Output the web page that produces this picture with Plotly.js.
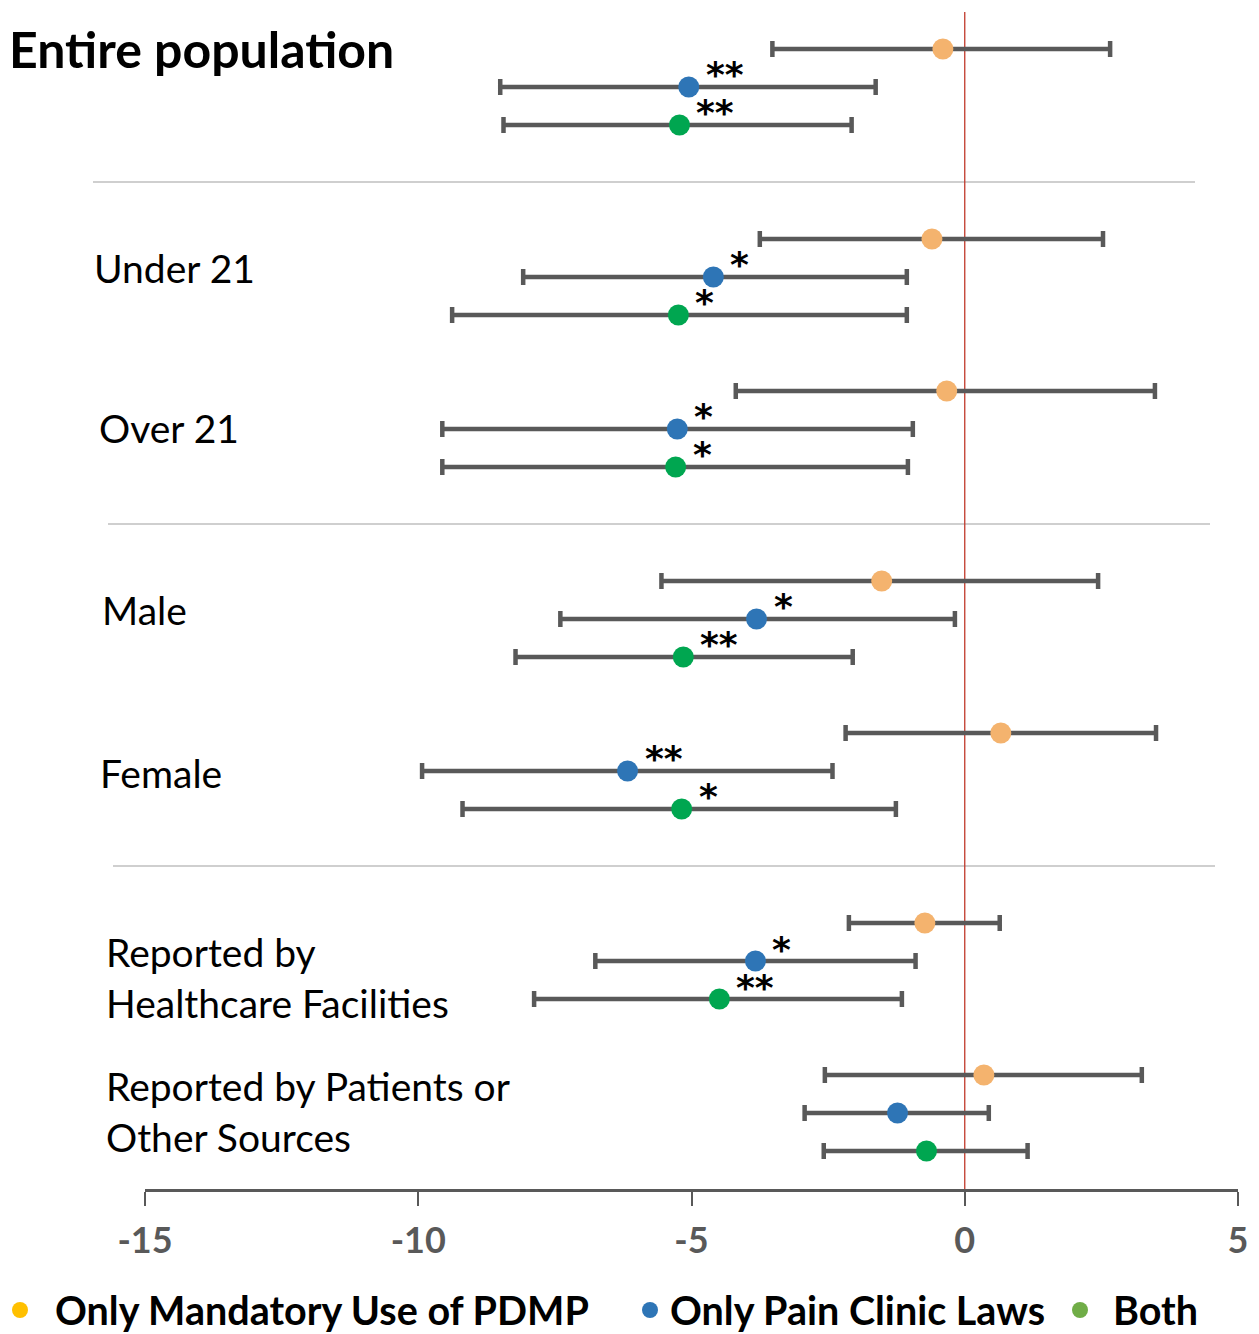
<!DOCTYPE html>
<html>
<head>
<meta charset="utf-8">
<script src="https://cdn.plot.ly/plotly-3.0.1.min.js"></script>
<style>html,body{margin:0;padding:0;background:#fff;}#chart{width:1259px;height:1334px;}</style>
</head>
<body>
<div id="chart"></div>
<script>
// ---- data ----
const groups = ['Entire population', 'Under 21', 'Over 21', 'Male', 'Female',
  'Reported by<br>Healthcare Facilities', 'Reported by Patients or<br>Other Sources'];
const seriesNames = ['Only Mandatory Use of PDMP', 'Only Pain Clinic Laws', 'Both'];

const pdmpEst = [-0.40, -0.60, -0.33, -1.52, 0.66, -0.73, 0.35];
const pdmpLo  = [-3.52, -3.75, -4.19, -5.55, -2.18, -2.12, -2.56];
const pdmpHi  = [2.66, 2.53, 3.48, 2.44, 3.50, 0.64, 3.24];
const pdmpSig = ['', '', '', '', '', '', ''];

const painEst = [-5.05, -4.60, -5.26, -3.81, -6.17, -3.83, -1.23];
const painLo  = [-8.50, -8.08, -9.56, -7.40, -9.93, -6.76, -2.93];
const painHi  = [-1.63, -1.06, -0.95, -0.18, -2.42, -0.90, 0.44];
const painSig = ['**', '*', '*', '*', '**', '*', ''];

const bothEst = [-5.22, -5.24, -5.29, -5.15, -5.18, -4.49, -0.70];
const bothLo  = [-8.44, -9.38, -9.56, -8.22, -9.19, -7.88, -2.58];
const bothHi  = [-2.07, -1.06, -1.04, -2.05, -1.26, -1.15, 1.15];
const bothSig = ['**', '*', '*', '**', '*', '**', ''];

const xTicks = [-15, -10, -5, 0, 5];

// ---- layout helpers ----
const FONT = 'Lato, "Open Sans", sans-serif';
const STARFONT = '"DejaVu Sans", Lato, sans-serif';
const sectionStart = [true, true, false, true, false, true, false];
const rows = [];
let r = 0;
groups.forEach((g, i) => {
  if (i > 0) r += sectionStart[i] ? 5 : 4;
  rows.push(r);
});
const separators = [];
for (let i = 1; i < groups.length; i++) if (sectionStart[i]) separators.push(rows[i] - 1.5);

const W = 1259, H = 1334, ML = 145, MR = 21, MT = 0, MB = 145;
const PW = W - ML - MR, PH = H - MT - MB;
const px2paperX = px => (px - ML) / PW;
const py2paperY = py => (H - MB - py) / PH;

const series = [
  {est: pdmpEst, lo: pdmpLo, hi: pdmpHi, sig: pdmpSig, color: '#F4B36E', legendColor: '#FFC000'},
  {est: painEst, lo: painLo, hi: painHi, sig: painSig, color: '#2E75B6', legendColor: '#2E75B6'},
  {est: bothEst, lo: bothLo, hi: bothHi, sig: bothSig, color: '#00A650', legendColor: '#70AD47'}
];

const traces = series.map((s, k) => ({
  type: 'scatter', mode: 'markers', name: seriesNames[k], showlegend: false,
  x: s.est, y: rows.map(v => v + k),
  marker: {color: s.color, size: 21},
  error_x: {type: 'data', symmetric: false,
    array: s.hi.map((h, i) => h - s.est[i]),
    arrayminus: s.lo.map((l, i) => s.est[i] - l),
    color: '#595959', thickness: 4.5, width: 8},
  hoverinfo: 'x+name'
}));

const annotations = [];
// significance stars
series.forEach((s, k) => {
  s.sig.forEach((t, i) => {
    if (!t) return;
    annotations.push({x: s.est[i], y: rows[i] + k, xref: 'x', yref: 'y', text: t,
      showarrow: false, xanchor: 'left', yanchor: 'middle', xshift: 15, yshift: 12,
      font: {family: STARFONT, size: 36, color: '#000', weight: 'bold'}});
  });
});
// group labels (positions are layout)
const labelPx = [[7, 49], [92, 268], [97, 428], [100, 610], [98, 773], [104, 977], [104, 1111]];
groups.forEach((g, i) => {
  annotations.push({x: px2paperX(labelPx[i][0]), y: py2paperY(labelPx[i][1]), xref: 'paper', yref: 'paper',
    text: g, showarrow: false, xanchor: 'left', yanchor: 'middle', align: 'left',
    font: {family: FONT, size: i === 0 ? 50 : 39, color: '#000', weight: i === 0 ? 'bold' : 'normal'}});
});
// legend
const legendPx = [[20, 53], [650, 668], [1080, 1111]];
const shapes = [];
series.forEach((s, k) => {
  const cx = legendPx[k][0], cy = 1310, rr = 8;
  shapes.push({type: 'circle', xref: 'paper', yref: 'paper',
    x0: px2paperX(cx - rr), x1: px2paperX(cx + rr), y0: py2paperY(cy + rr), y1: py2paperY(cy - rr),
    fillcolor: s.legendColor, line: {width: 0}});
  annotations.push({x: px2paperX(legendPx[k][1]), y: py2paperY(1309), xref: 'paper', yref: 'paper',
    text: seriesNames[k], showarrow: false, xanchor: 'left', yanchor: 'middle',
    font: {family: FONT, size: 39.5, color: '#000', weight: 'bold'}});
});
// separators
const sepPx = [[93, 1195], [108, 1210], [113, 1215]];
separators.forEach((yv, i) => {
  shapes.push({type: 'line', xref: 'paper', yref: 'y', x0: px2paperX(sepPx[i][0]), x1: px2paperX(sepPx[i][1]),
    y0: yv, y1: yv, line: {color: '#BFBFBF', width: 1.5}, layer: 'below'});
});
// zero reference line
shapes.push({type: 'line', xref: 'x', yref: 'y', x0: 0, x1: 0, y0: -0.97, y1: 30,
  line: {color: '#C0392B', width: 1.3}, layer: 'below'});

const layout = {
  width: W, height: H,
  margin: {l: ML, r: MR, t: MT, b: MB},
  paper_bgcolor: '#fff', plot_bgcolor: '#fff',
  showlegend: false,
  xaxis: {range: [-15, 5], tickvals: xTicks, ticktext: xTicks.map(String), showgrid: false, zeroline: false,
    showline: true, linecolor: '#595959', linewidth: 2.5, ticks: 'outside', ticklen: 14, tickwidth: 2,
    tickcolor: '#595959', ticklabelstandoff: 4,
    tickfont: {family: FONT, size: 36, color: '#595959', weight: 'bold'}},
  yaxis: {range: [30, -1.289], visible: false, showgrid: false, zeroline: false, fixedrange: true},
  annotations: annotations,
  shapes: shapes
};

Plotly.newPlot('chart', traces, layout, {displayModeBar: false, staticPlot: true});
</script>
</body>
</html>
